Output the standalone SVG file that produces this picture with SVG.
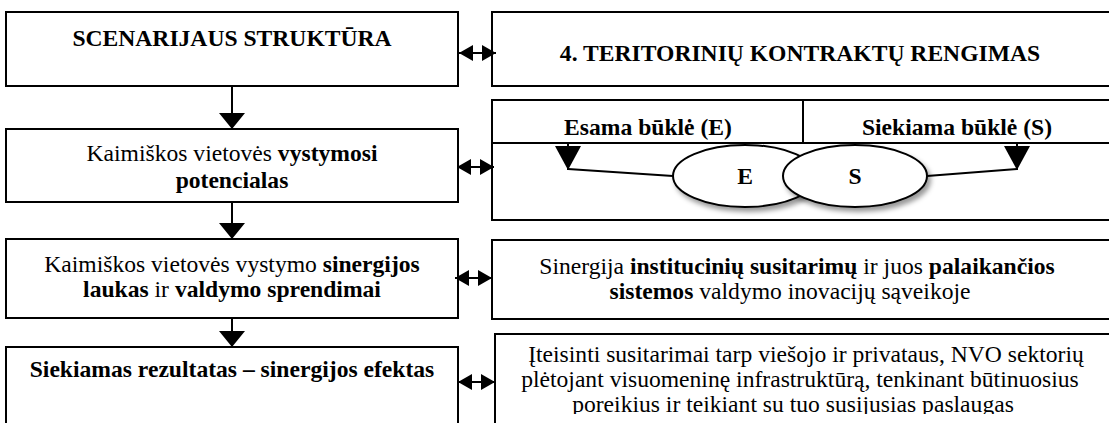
<svg xmlns="http://www.w3.org/2000/svg" width="1109" height="423" viewBox="0 0 1109 423">
<defs>
<style>
.box{fill:#fff;stroke:#000;stroke-width:2}
.t{font-family:"Liberation Serif","Times New Roman",serif;font-size:23.6px;fill:#000;text-anchor:middle}
.b{font-weight:bold}
.ln{stroke:#000;stroke-width:2;fill:none}
.ell{fill:#fff;stroke:#000;stroke-width:2}
</style>
<filter id="sh" x="-20%" y="-20%" width="150%" height="170%"><feDropShadow dx="3" dy="4" stdDeviation="2.5" flood-color="#000" flood-opacity="0.4"/></filter>
<clipPath id="clipR4"><rect x="495" y="334" width="620" height="80"/></clipPath>
<marker id="dn" markerUnits="userSpaceOnUse" markerWidth="16" markerHeight="26" refX="16" refY="13" orient="auto"><path d="M0,0 L16,13 L0,26 z" fill="#000"/></marker>
<marker id="dh" markerUnits="userSpaceOnUse" markerWidth="14" markerHeight="16" refX="14" refY="8" orient="auto-start-reverse"><path d="M0,0 L14,8 L0,16 z" fill="#000"/></marker>
<marker id="tri" markerUnits="userSpaceOnUse" markerWidth="24" markerHeight="26" refX="24" refY="13" orient="auto"><path d="M0,0 L24,13 L0,26 z" fill="#000"/></marker>
</defs>
<rect width="1109" height="423" fill="#fff"/>

<g font-family="Liberation Serif, Times New Roman, serif">
<g id="node-scenarijaus">
<rect class="box" x="6" y="12" width="452" height="74"/>
<text class="t b" x="232" y="46">SCENARIJAUS STRUKTŪRA</text>
</g>
<g id="node-potencialas">
<rect class="box" x="6" y="129" width="452" height="73"/>
<text class="t" x="232" y="161">Kaimiškos vietovės <tspan class="b">vystymosi</tspan></text>
<text class="t b" x="232" y="188">potencialas</text>
</g>
<g id="node-sinergijos-laukas">
<rect class="box" x="6" y="239" width="452" height="79"/>
<text class="t" x="232" y="272">Kaimiškos vietovės vystymo <tspan class="b">sinergijos</tspan></text>
<text class="t" x="232" y="297"><tspan class="b">laukas</tspan> ir <tspan class="b">valdymo sprendimai</tspan></text>
</g>
<g id="node-rezultatas">
<rect class="box" x="6" y="347" width="452" height="90"/>
<text class="t b" x="232" y="377">Siekiamas rezultatas – sinergijos efektas</text>
</g>

<g id="node-kontraktai">
<rect class="box" x="492" y="12" width="620" height="74"/>
<text class="t b" x="800" y="61">4. TERITORINIŲ KONTRAKTŲ RENGIMAS</text>
</g>
<g id="node-bukle">
<rect class="box" x="492" y="100" width="620" height="120"/>
<line class="ln" x1="492" y1="143" x2="1112" y2="143"/>
<line class="ln" x1="803" y1="100" x2="803" y2="143"/>
<text class="t b" x="648" y="135">Esama būklė (E)</text>
<text class="t b" x="957" y="135">Siekiama būklė (S)</text>
<path class="ln" d="M568,169 L673,176"/>
<path class="ln" d="M927,176 L1017,169"/>
<path class="ln" d="M568,143 V170" marker-end="url(#tri)"/>
<path class="ln" d="M1017,143 V170" marker-end="url(#tri)"/>
<g id="node-E">
<ellipse class="ell" cx="745" cy="176" rx="72" ry="31" filter="url(#sh)"/>
<text class="t b" x="745" y="184">E</text>
</g>
<g id="node-S">
<ellipse class="ell" cx="855" cy="176" rx="72" ry="31" filter="url(#sh)"/>
<text class="t b" x="855" y="184">S</text>
</g>
</g>
<g id="node-sinergija">
<rect class="box" x="492" y="240" width="620" height="79"/>
<text class="t" x="797" y="274">Sinergija <tspan class="b">institucinių susitarimų</tspan> ir juos <tspan class="b">palaikančios</tspan></text>
<text class="t" x="790" y="299"><tspan class="b">sistemos</tspan> valdymo inovacijų sąveikoje</text>
</g>
<g id="node-susitarimai">
<rect class="box" x="495" y="334" width="620" height="100"/>
<g clip-path="url(#clipR4)">
<text class="t" x="806" y="362">Įteisinti susitarimai tarp viešojo ir privataus, NVO sektorių</text>
<text class="t" x="800" y="387">plėtojant visuomeninę infrastruktūrą, tenkinant būtinuosius</text>
<text class="t" x="793" y="412">poreikius ir teikiant su tuo susijusias paslaugas</text>
</g>
</g>
</g>

<g id="connectors">
<path class="ln" d="M232,86 V129" marker-end="url(#dn)"/>
<path class="ln" d="M232,203 V239" marker-end="url(#dn)"/>
<path class="ln" d="M232,318 V347" marker-end="url(#dn)"/>
<path class="ln" d="M459,53 H496" marker-start="url(#dh)" marker-end="url(#dh)"/>
<path class="ln" d="M457,167 H494" marker-start="url(#dh)" marker-end="url(#dh)"/>
<path class="ln" d="M455,278 H492" marker-start="url(#dh)" marker-end="url(#dh)"/>
<path class="ln" d="M458,382 H495" marker-start="url(#dh)" marker-end="url(#dh)"/>
</g>
</svg>
